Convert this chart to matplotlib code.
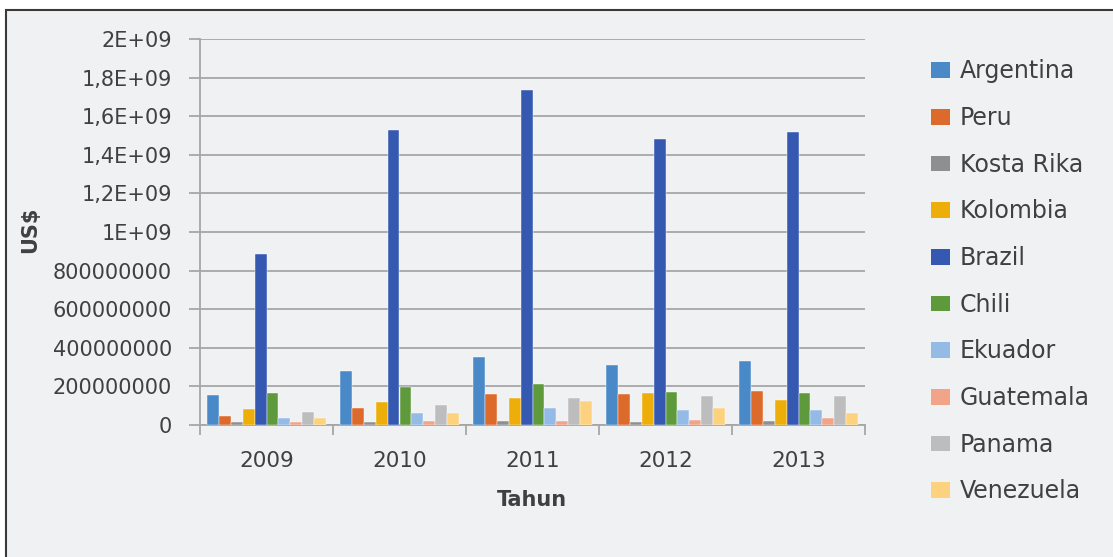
import matplotlib.pyplot as plt
import numpy as np
from matplotlib.patches import Rectangle, Patch

years = ["2009", "2010", "2011", "2012", "2013"]
countries = ["Argentina", "Peru", "Kosta Rika", "Kolombia", "Brazil",
             "Chili", "Ekuador", "Guatemala", "Panama", "Venezuela"]

argentina = [1.57e8, 2.81e8, 3.50e8, 3.09e8, 3.30e8]
peru = [4.8e7, 9.0e7, 1.59e8, 1.59e8, 1.78e8]
kosta_rika = [1.4e7, 1.4e7, 2.2e7, 1.4e7, 2.1e7]
kolombia = [8.3e7, 1.17e8, 1.38e8, 1.66e8, 1.31e8]
brazil = [8.84e8, 1.53e9, 1.735e9, 1.48e9, 1.52e9]
chili = [1.66e8, 1.97e8, 2.12e8, 1.71e8, 1.66e8]
ekuador = [3.5e7, 6.2e7, 9.0e7, 7.6e7, 7.6e7]
guatemala = [1.4e7, 2.2e7, 2.2e7, 2.7e7, 3.5e7]
panama = [6.9e7, 1.05e8, 1.38e8, 1.52e8, 1.52e8]
venezuela = [3.5e7, 6.2e7, 1.24e8, 9.0e7, 6.2e7]

series = [argentina, peru, kosta_rika, kolombia, brazil,
          chili, ekuador, guatemala, panama, venezuela]
colors = ["#4A89C8", "#DC6A2A", "#8F8F8F", "#EDAE0A", "#3558B0",
          "#5E9A3C", "#94BBE6", "#F2A488", "#BDBDBD", "#FDD27E"]

yticks = [0, 2e8, 4e8, 6e8, 8e8, 1e9, 1.2e9, 1.4e9, 1.6e9, 1.8e9, 2e9]
ytick_labels = ["0", "200000000", "400000000", "600000000", "800000000",
                "1E+09", "1,2E+09", "1,4E+09", "1,6E+09", "1,8E+09", "2E+09"]

txt = "#404040"
grid_c = "#A6A6A6"
plt.rcParams['font.family'] = ['DejaVu Sans']

fig = plt.figure(figsize=(11.13, 5.57), dpi=100)
fig.patch.set_facecolor("white")
fig.patches.append(Rectangle((5.5 / 1113, -0.01), 1.02, 1 - 9.5 / 557 + 0.01,
                             transform=fig.transFigure, facecolor="#F0F1F3",
                             edgecolor="#3A3A3A", linewidth=1.5, zorder=-10))

ax = fig.add_axes([200 / 1113, 1 - 425 / 557, 665 / 1113, 386 / 557])
ax.set_facecolor("none")

x = np.arange(len(years))
w = 0.09
for i, (vals, c) in enumerate(zip(series, colors)):
    ax.bar(x + (i - 4.5) * w, vals, w, color=c, zorder=3,
           edgecolor="white", linewidth=0.3)

ax.set_xlim(-0.5, len(years) - 0.5)
ax.set_ylim(0, 2e9)
ax.set_yticks(yticks)
ax.set_yticklabels(ytick_labels)
ax.set_xticks(x)
ax.set_xticklabels(years)
ax.set_xticks(np.arange(len(years) + 1) - 0.5, minor=True)

ax.yaxis.grid(True, color=grid_c, linewidth=1.3, zorder=0)
for s in ["top", "right"]:
    ax.spines[s].set_visible(False)
for s in ["left", "bottom"]:
    ax.spines[s].set_color(grid_c)
    ax.spines[s].set_linewidth(1.3)

ax.tick_params(axis="y", length=8, width=1.3, color=grid_c, pad=12,
               labelsize=15, labelcolor=txt)
ax.tick_params(axis="x", which="major", length=0, pad=19,
               labelsize=15.5, labelcolor=txt)
ax.tick_params(axis="x", which="minor", length=7, width=1.3, color=grid_c)

fig.text(30 / 1113, 1 - 230 / 557, "US$", rotation=90, fontsize=15,
         fontweight="bold", color=txt, ha="center", va="center")
fig.text(532 / 1113, 1 - 500 / 557, "Tahun", fontsize=15,
         fontweight="bold", color=txt, ha="center", va="center")

handles = [Patch(facecolor=c) for c in colors]
leg = fig.legend(handles, countries, loc="upper left",
                 bbox_to_anchor=(922 / 1113, 1 - 50 / 557), frameon=False,
                 fontsize=17, handlelength=0.8, handleheight=0.65,
                 handletextpad=0.4, labelspacing=0.96, borderaxespad=0)
for t in leg.get_texts():
    t.set_color(txt)

fig.savefig("out.png", dpi=100)
